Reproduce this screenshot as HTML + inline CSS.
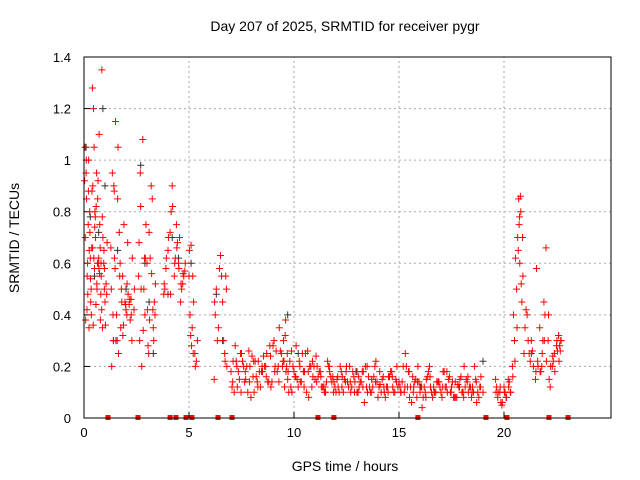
<!DOCTYPE html>
<html><head><meta charset="utf-8">
<style>
body{margin:0;background:#fff;}
svg{display:block;font-family:"Liberation Sans",sans-serif;}
</style></head>
<body>
<svg id="chart" width="640" height="480">
<text x="345" y="31" font-size="14" text-anchor="middle">Day 207 of 2025, SRMTID for receiver pygr</text>
<text x="345" y="471" font-size="14" text-anchor="middle">GPS time / hours</text>
<text x="19" y="238" font-size="14" text-anchor="middle" transform="rotate(-90 19 238)">SRMTID / TECUs</text>
<g id="grid"></g><g id="axes"></g><g id="black"></g><g id="red"></g><g id="marks"></g>
<rect x="84" y="57" width="527" height="361" fill="none" stroke="#000" stroke-width="1"/>
</svg>
<script>
const xTicks=[0,5,10,15,20];
const yTicks=[0,0.2,0.4,0.6,0.8,1,1.2,1.4];
const yTickLabels=["0","0.2","0.4","0.6","0.8","1","1.2","1.4"];
const redHours=[0.05,0.1,0.12,0.15,0.2,0.22,0.25,0.3,0.32,0.35,0.4,0.42,0.45,0.5,0.52,0.55,0.6,0.62,0.65,0.7,0.72,0.75,0.8,0.82,0.85,0.9,0.95,1.0,1.05,1.1,0.08,0.18,0.28,0.38,0.48,0.58,0.68,0.78,0.88,0.98,
1.3,1.35,1.4,1.45,1.5,1.55,1.6,1.7,1.75,1.8,1.9,2.0,2.1,2.2,2.3,2.4,1.32,1.42,1.52,1.62,1.72,1.85,1.95,2.05,2.15,2.25,
2.6,2.7,2.8,2.9,3.0,3.05,3.1,3.2,3.3,3.35,3.4,2.65,2.75,2.85,2.95,3.15,3.25,3.38,
3.8,3.9,4.0,4.1,4.2,4.3,4.4,4.5,4.6,4.7,4.8,3.85,4.15,4.35,4.55,4.75,
5.0,5.05,5.1,5.15,5.2,5.3,5.4,5.02,5.12,5.22,5.35,
6.2,6.3,6.4,6.5,6.6,6.7,6.8,6.25,6.45,6.65,6.75,
7.0,7.1,7.3,7.5,7.7,7.9,8.1,8.3,8.5,8.7,8.9,9.1,9.3,9.5,9.6,9.7,9.8,10.0,10.2,10.4,10.6,10.8,11.0,11.2,11.4,11.6,11.8,12.0,12.2,12.4,12.6,12.8,13.0,13.2,13.4,13.6,13.8,14.0,14.2,14.4,14.6,14.8,15.0,15.2,15.4,15.6,15.8,16.0,16.2,16.4,16.6,16.8,17.0,17.2,17.4,17.6,17.8,18.0,18.2,18.4,18.6,18.8,19.0,
7.2,7.4,7.6,7.8,8.0,8.2,8.4,8.6,8.8,9.0,9.2,9.4,9.55,9.65,9.9,10.1,10.3,10.5,10.7,10.9,11.1,11.3,11.5,11.7,11.9,12.1,12.3,12.5,12.7,12.9,13.1,13.3,13.5,13.7,13.9,14.1,14.3,14.5,14.7,14.9,15.1,15.3,15.5,15.7,15.9,16.1,16.3,16.5,16.7,16.9,17.1,17.3,17.5,17.7,17.9,18.1,18.3,18.5,18.7,18.9,
7.15,7.55,7.95,8.35,8.75,9.15,9.45,9.75,10.15,10.55,10.95,11.35,11.75,12.15,12.55,12.95,13.35,13.75,14.15,14.55,14.95,15.35,15.75,16.15,16.55,16.95,17.35,17.75,18.15,18.55,
19.6,19.7,19.8,19.9,20.0,20.1,20.2,20.3,20.4,20.5,20.6,20.65,20.7,20.75,20.8,20.85,20.9,21.0,21.1,21.2,21.3,21.4,19.65,19.85,20.05,20.25,20.45,20.55,20.72,20.78,20.95,
21.5,21.6,21.7,21.8,21.9,22.0,22.1,22.2,22.3,22.4,22.5,22.6,22.7,21.55,21.75,21.85,21.95,22.15,22.35,22.55,22.65,
0.03,0.06,0.14,0.17,0.24,0.27,0.34,0.37,0.44,0.47,0.54,0.57,0.64,0.67,0.74,0.77,0.84,0.87,0.94,0.97,1.02,1.08,0.11,0.21,0.31,0.41,0.51,0.61,0.71,0.81,
1.28,1.38,1.48,1.58,1.68,1.78,1.88,1.98,2.08,2.18,2.28,2.38,1.44,1.64,1.84,2.04,2.24,
2.62,2.72,2.82,2.92,3.02,3.12,3.22,3.32,2.68,2.88,3.08,3.28,
3.82,3.92,4.02,4.12,4.22,4.32,4.42,4.52,4.62,4.72,4.82,4.45,4.65,
5.08,5.18,5.28,6.22,6.35,6.55,6.72,6.78,
7.05,7.25,7.35,7.45,7.65,7.75,7.85,8.05,8.15,8.25,8.45,8.55,8.65,8.85,8.95,9.05,9.25,9.35,9.52,9.58,9.62,9.68,9.85,9.95,10.05,10.25,10.35,10.45,10.65,10.75,10.85,11.05,11.15,11.25,11.45,11.55,11.65,11.85,11.95,12.05,12.25,12.35,12.45,12.65,12.75,12.85,13.05,13.15,13.25,13.45,13.55,13.65,13.85,13.95,14.05,14.25,14.35,14.45,14.65,14.75,14.85,15.05,15.15,15.25,15.45,15.55,15.65,15.85,15.95,16.05,16.25,16.35,16.45,16.65,16.75,16.85,17.05,17.15,17.25,17.45,17.55,17.65,17.85,17.95,18.05,18.25,18.35,18.45,18.65,18.75,18.85,
7.08,7.28,7.48,7.68,7.88,8.08,8.28,8.48,8.68,8.88,9.08,9.28,9.48,9.72,9.88,10.08,10.28,10.48,10.68,10.88,11.08,11.28,11.48,11.68,11.88,12.08,12.28,12.48,12.68,12.88,13.08,13.28,13.48,13.68,13.88,14.08,14.28,14.48,14.68,14.88,15.08,15.28,15.48,15.68,15.88,16.08,16.28,16.48,16.68,16.88,17.08,17.28,17.48,17.68,17.88,18.08,18.28,18.48,18.68,18.88,
19.62,19.72,19.82,19.92,20.02,20.12,20.22,20.32,20.42,20.52,20.62,20.68,20.74,20.82,20.88,21.05,21.15,21.25,21.35,
21.52,21.62,21.72,21.82,21.92,22.02,22.12,22.22,22.32,22.42,22.52,22.62,22.68,22.72];
const redValues=[1.05,0.95,0.85,0.55,0.75,1.0,0.65,0.62,0.45,0.4,1.28,0.9,1.2,0.58,0.8,0.7,0.95,0.5,0.85,0.62,1.1,0.75,0.48,0.55,1.35,0.7,0.65,0.45,0.52,0.68,0.38,0.48,0.72,0.88,1.05,0.82,0.6,0.38,0.35,0.58,
0.5,0.95,0.3,0.62,1.15,0.4,0.85,0.55,0.35,0.45,0.75,0.42,0.48,0.38,0.62,0.5,0.2,0.9,0.3,1.05,0.6,0.32,0.45,0.52,0.44,0.4,
0.55,0.82,1.08,0.4,0.6,0.28,0.72,0.9,0.35,0.45,0.52,0.3,0.2,0.5,0.75,0.62,0.85,0.4,
0.48,0.58,0.65,0.72,0.9,0.55,0.75,0.6,0.45,0.52,0.57,0.5,0.8,0.62,0.7,0.55,
0.55,0.4,0.67,0.35,0.25,0.2,0.3,0.65,0.28,0.45,0.22,
0.15,0.5,0.35,0.63,0.45,0.25,0.2,0.4,0.58,0.3,0.55,
0.18,0.22,0.12,0.25,0.15,0.2,0.1,0.22,0.18,0.25,0.12,0.2,0.35,0.3,0.38,0.15,0.22,0.18,0.12,0.25,0.1,0.2,0.15,0.18,0.12,0.22,0.14,0.1,0.2,0.15,0.12,0.18,0.1,0.14,0.2,0.12,0.16,0.08,0.15,0.12,0.18,0.1,0.14,0.2,0.12,0.06,0.15,0.1,0.12,0.18,0.08,0.14,0.1,0.12,0.16,0.08,0.13,0.1,0.15,0.12,0.2,0.08,0.1,
0.28,0.15,0.2,0.1,0.24,0.16,0.12,0.2,0.14,0.28,0.18,0.25,0.12,0.2,0.1,0.28,0.14,0.18,0.08,0.16,0.2,0.12,0.1,0.18,0.14,0.12,0.16,0.2,0.1,0.14,0.12,0.18,0.1,0.15,0.22,0.13,0.1,0.16,0.12,0.2,0.1,0.25,0.08,0.12,0.2,0.04,0.15,0.12,0.1,0.14,0.18,0.1,0.12,0.08,0.15,0.2,0.1,0.12,0.06,0.16,
0.1,0.22,0.08,0.18,0.14,0.26,0.2,0.1,0.15,0.25,0.2,0.12,0.16,0.1,0.14,0.18,0.06,0.12,0.1,0.16,0.12,0.2,0.14,0.08,0.1,0.12,0.15,0.08,0.12,0.1,
0.15,0.08,0.1,0.05,0.12,0.08,0.15,0.1,0.2,0.3,0.5,0.7,0.85,0.6,0.8,0.45,0.55,0.35,0.4,0.25,0.3,0.2,0.12,0.06,0.1,0.14,0.4,0.62,0.75,0.86,0.25,
0.15,0.22,0.35,0.2,0.45,0.66,0.3,0.12,0.2,0.25,0.28,0.32,0.3,0.58,0.18,0.3,0.4,0.15,0.22,0.26,0.28,
0.92,0.7,0.42,0.6,0.35,0.8,0.5,0.66,0.36,0.62,0.78,0.44,0.6,0.92,0.56,0.66,0.42,0.78,0.6,0.5,0.36,0.48,1.0,0.88,0.54,0.66,0.74,0.52,0.58,0.6,
0.66,0.4,0.58,0.3,0.72,0.5,0.36,0.44,0.68,0.46,0.3,0.42,0.88,0.25,0.55,0.4,0.46,
0.68,0.5,0.34,0.62,0.42,0.38,0.56,0.3,0.95,0.62,0.25,0.42,
0.52,0.62,0.7,0.48,0.82,0.6,0.66,0.58,0.52,0.56,0.6,0.68,0.5,
0.32,0.55,0.25,0.45,0.3,0.55,0.22,0.5,
0.12,0.22,0.18,0.25,0.14,0.2,0.26,0.16,0.22,0.14,0.18,0.24,0.2,0.28,0.14,0.3,0.2,0.26,0.22,0.32,0.18,0.25,0.12,0.2,0.16,0.22,0.14,0.18,0.26,0.2,0.12,0.24,0.16,0.18,0.1,0.14,0.2,0.16,0.12,0.15,0.18,0.1,0.14,0.2,0.12,0.16,0.1,0.14,0.18,0.12,0.16,0.1,0.2,0.14,0.12,0.16,0.08,0.12,0.18,0.1,0.15,0.12,0.14,0.1,0.18,0.12,0.16,0.08,0.14,0.12,0.1,0.16,0.2,0.12,0.1,0.14,0.08,0.18,0.12,0.1,0.14,0.08,0.12,0.16,0.1,0.14,0.12,0.08,0.15,0.1,0.12,0.14,
0.2,0.1,0.18,0.14,0.22,0.12,0.2,0.16,0.24,0.18,0.14,0.22,0.18,0.26,0.16,0.2,0.12,0.18,0.22,0.14,0.16,0.12,0.2,0.1,0.16,0.12,0.18,0.14,0.1,0.16,0.12,0.2,0.1,0.14,0.18,0.12,0.1,0.16,0.14,0.1,0.12,0.18,0.1,0.14,0.12,0.08,0.16,0.1,0.14,0.12,0.18,0.1,0.14,0.12,0.08,0.16,0.1,0.14,0.12,0.1,
0.1,0.12,0.06,0.1,0.08,0.12,0.1,0.16,0.22,0.35,0.65,0.78,0.52,0.7,0.42,0.3,0.22,0.26,0.18,
0.2,0.18,0.25,0.3,0.22,0.4,0.2,0.24,0.18,0.3,0.22,0.26,0.3,0.24];
const blackHours=[0.1,0.3,0.5,0.7,0.9,1.0,1.4,1.6,2.0,2.7,2.9,3.1,3.3,4.0,4.2,4.5,5.1,6.3,6.6,9.7,10.2,13.0,16.0,19.0,20.5,21.3,22.6];
const blackValues=[1.05,0.78,0.55,0.72,1.2,0.9,0.3,0.65,0.5,0.98,0.6,0.45,0.25,0.48,0.7,0.62,0.6,0.48,0.3,0.4,0.25,0.18,0.12,0.22,0.3,0.25,0.32];
const markerHours=[1.14,2.57,4.1,4.38,4.86,5.14,6.38,7.05,11.14,11.9,15.9,19.14,20.14,22.14,23.05];
const NS="http://www.w3.org/2000/svg";
const X0=84,X1=609,Y0=418,Y1=57;
function xs(h){return X0+h*(X1-X0)/25;}
function ys(v){return Y0-v*(Y0-Y1)/1.4;}
const grid=document.getElementById('grid'),axes=document.getElementById('axes');
function mk(t,a,p){const e=document.createElementNS(NS,t);for(const k in a)e.setAttribute(k,a[k]);p.appendChild(e);return e;}
xTicks.forEach(t=>{const x=xs(t);
 if(t>0){const g=mk('line',{x1:x,x2:x,y1:Y0,y2:Y1,stroke:'#aaa','stroke-dasharray':'2,3','stroke-width':1},grid);
 
 }
 const tx=mk('text',{x:x,y:Y0+19,'font-size':13,'text-anchor':'middle'},axes);tx.textContent=t;
 
 
 mk('line',{x1:x,x2:x,y1:Y0,y2:Y0-6,stroke:'#000'},axes);});
yTicks.forEach((t,i)=>{const y=ys(t);
 if(t>0&&t<1.4){const g=mk('line',{x1:X0,x2:611,y1:y,y2:y,stroke:'#aaa','stroke-dasharray':'2,3','stroke-width':1},grid);
 
 }
 const tx=mk('text',{x:X0-13,y:y+5,'font-size':13,'text-anchor':'end'},axes);tx.textContent=yTickLabels[i];
 
 
 mk('line',{x1:X0,x2:X0+6,y1:y,y2:y,stroke:'#000'},axes);});
function plus(g,h,v,c){const x=xs(h),y=ys(v);
 const p=mk('path',{d:`M${x-3.5} ${y}H${x+3.5}M${x} ${y-3.5}V${y+3.5}`,stroke:c,'stroke-width':1},g);return p;}
const bg=document.getElementById('black');
blackHours.forEach((h,i)=>{const p=plus(bg,h,blackValues[i],'#333');
 
 });
const rg=document.getElementById('red');
redHours.forEach((h,i)=>{const p=plus(rg,h,redValues[i],'#f00');
 
 });
const mg=document.getElementById('marks');
markerHours.forEach(h=>{const r=mk('rect',{x:xs(h)-2.5,y:Y0-3,width:5,height:5,fill:'#f00'},mg);
 
 });
</script>
</body></html>
